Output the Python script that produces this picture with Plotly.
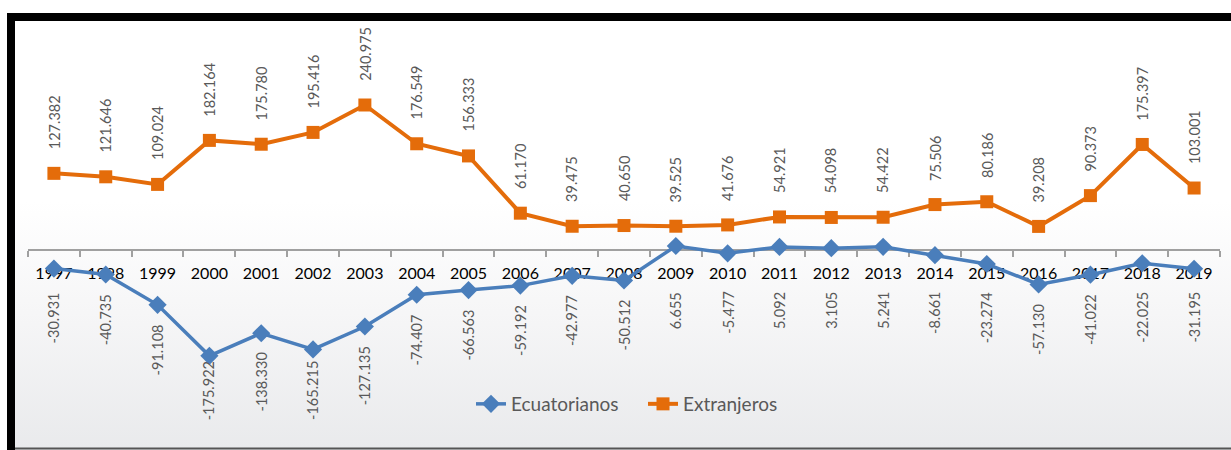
import base64
import plotly.graph_objects as go

years = list(range(1997, 2020))
ecuatorianos = [-30931, -40735, -91108, -175922, -138330, -165215, -127135, -74407,
                -66563, -59192, -42977, -50512, 6655, -5477, 5092, 3105, 5241, -8661,
                -23274, -57130, -41022, -22025, -31195]
extranjeros = [127382, 121646, 109024, 182164, 175780, 195416, 240975, 176549,
               156333, 61170, 39475, 40650, 39525, 41676, 54921, 54098, 54422, 75506,
               80186, 39208, 90373, 175397, 103001]

W, H = 1231, 450
BLUE = "#4A7EBB"
ORANGE = "#E46C0A"
LABEL = "#595959"
FONT = "Lato, Open Sans, Liberation Sans, sans-serif"
LABEL_SIZE = 14.5


def fmt(v):
    return f"{v:,}".replace(",", ".")


def text_len(s, size=LABEL_SIZE):
    widths = {"-": 0.31, ".": 0.25}
    return sum(widths.get(c, 0.58) for c in s) * size


# pixel layout of the plot
zero_px = 250.0
px_per_unit = 145.0 / 240975
ymax = zero_px / px_per_unit
ymin = -(H - zero_px) / px_per_unit

fig = go.Figure()
fig.add_trace(go.Scatter(
    x=years, y=ecuatorianos, name="Ecuatorianos", mode="lines+markers",
    line=dict(color=BLUE, width=3.5),
    marker=dict(symbol="diamond", size=14, color=BLUE),
))
fig.add_trace(go.Scatter(
    x=years, y=extranjeros, name="Extranjeros", mode="lines+markers",
    line=dict(color=ORANGE, width=4),
    marker=dict(symbol="square", size=13, color=ORANGE),
))

annotations = []
for yr, v in zip(years, extranjeros):
    annotations.append(dict(x=yr, y=v, xref="x", yref="y", text=fmt(v), showarrow=False,
                            textangle=-90, yanchor="bottom", xanchor="center", yshift=22,
                            font=dict(family=FONT, size=LABEL_SIZE, color=LABEL)))
# labels below the blue series: keep them under the year labels and inside the plot area
for yr, v in zip(years, ecuatorianos):
    t = fmt(v)
    marker_px = zero_px - v * px_per_unit
    top = max(marker_px + 17.5, 290.0)
    L = text_len(t)
    if top + L > 418:
        top = 418 - L
    annotations.append(dict(x=yr, y=v, xref="x", yref="y", text=t, showarrow=False,
                            textangle=-90, yanchor="top", xanchor="center",
                            yshift=-(top - marker_px),
                            font=dict(family=FONT, size=LABEL_SIZE, color=LABEL)))

svg = (
    '<svg xmlns="http://www.w3.org/2000/svg" width="100" height="100" viewBox="0 0 100 100" '
    'preserveAspectRatio="none"><defs><linearGradient id="g" x1="0" y1="0" x2="0" y2="1">'
    '<stop offset="0" stop-color="#FFFFFF"/><stop offset="0.42" stop-color="#FFFFFF"/>'
    '<stop offset="0.68" stop-color="#F6F6F7"/><stop offset="1" stop-color="#E9EAEC"/>'
    '</linearGradient></defs><rect width="100" height="100" fill="url(#g)"/></svg>'
)
src = "data:image/svg+xml;base64," + base64.b64encode(svg.encode()).decode()

boundaries = [y - 0.5 for y in years] + [years[-1] + 0.5]

fig.update_layout(
    width=W, height=H, autosize=False,
    margin=dict(l=0, r=0, t=0, b=0, pad=0),
    paper_bgcolor="white", plot_bgcolor="rgba(0,0,0,0)",
    font=dict(family=FONT, color=LABEL),
    showlegend=True,
    legend=dict(orientation="h", x=643 / W, xanchor="center", y=1 - 404 / H, yanchor="middle",
                font=dict(family=FONT, size=19, color=LABEL), bgcolor="rgba(0,0,0,0)",
                entrywidthmode="pixels", entrywidth=127, tracegroupgap=0),
    xaxis=dict(type="linear", domain=[28 / W, 1220 / W], range=[years[0] - 0.5, years[-1] + 0.5],
               anchor="free", position=1 - zero_px / H,
               showline=True, linecolor="#A0A0A0", linewidth=1.5,
               tickmode="array", tickvals=years, ticktext=[str(y) for y in years],
               ticks="", ticklabelstandoff=9,
               minor=dict(tickmode="array", tickvals=boundaries, ticks="outside", ticklen=6,
                          tickwidth=1.5, tickcolor="#A0A0A0", showgrid=False),
               showgrid=False, zeroline=False,
               tickfont=dict(family=FONT, size=16, color="black"),
               layer="below traces", fixedrange=True),
    yaxis=dict(domain=[0, 1], range=[ymin, ymax], visible=False, showgrid=False,
               zeroline=False, fixedrange=True),
    annotations=annotations,
    images=[dict(source=src, xref="paper", yref="paper", x=15 / W, y=1 - 21 / H,
                 sizex=(W - 15) / W, sizey=(H - 21) / H, xanchor="left", yanchor="top",
                 sizing="stretch", layer="below")],
    shapes=[
        dict(type="rect", xref="paper", yref="paper", x0=7 / W, x1=1, y0=1 - 21 / H, y1=1 - 13 / H,
             fillcolor="black", line=dict(width=0)),
        dict(type="rect", xref="paper", yref="paper", x0=7 / W, x1=15 / W, y0=0, y1=1 - 13 / H,
             fillcolor="black", line=dict(width=0)),
        dict(type="line", xref="paper", yref="paper", x0=15 / W, x1=1, y0=1 - 448.5 / H,
             y1=1 - 448.5 / H, line=dict(color="#555555", width=2)),
    ],
)

fig.write_html("out.html", config={"displayModeBar": False},
               post_script="document.body.style.margin='0';document.body.style.padding='0';")
